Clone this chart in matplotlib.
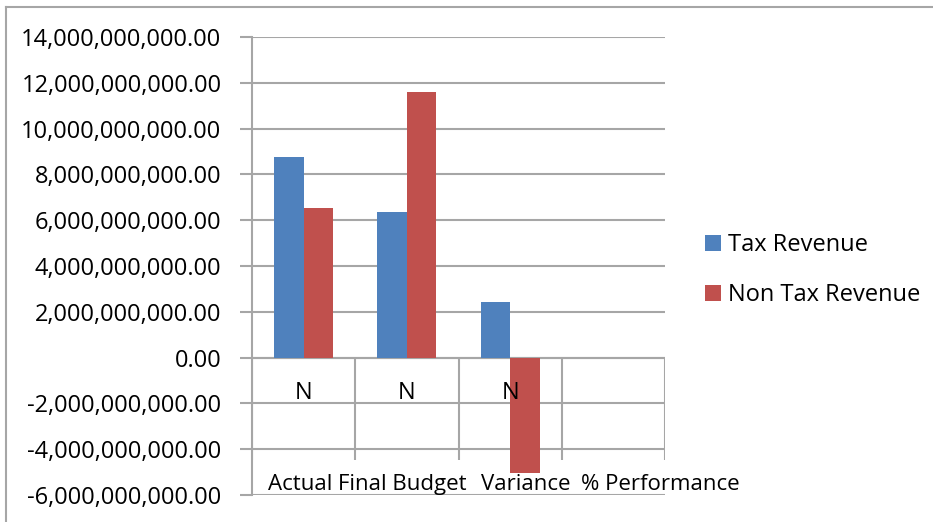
import numpy as np
import matplotlib
matplotlib.use("Agg")
import matplotlib.pyplot as plt
from matplotlib.lines import Line2D
from matplotlib.ticker import FuncFormatter

categories = ["Actual", "Final Budget", "Variance", "% Performance"]
group_labels = ["N", "N", "N", ""]
tax_revenue = [8.77e9, 6.35e9, 2.42e9, 138.1]
non_tax_revenue = [6.54e9, 11.60e9, -5.06e9, 56.4]
series_names = ["Tax Revenue", "Non Tax Revenue"]

blue = "#4F81BD"
red = "#C0504D"
grid_col = "#A6A6A6"
fs = 17

plt.rcParams['font.family'] = ['Open Sans', 'DejaVu Sans']

fig = plt.figure(figsize=(9.33, 5.22), dpi=100)
ax = fig.add_axes([0.2701, 0.0517, 0.4427, 0.8774])

x = np.arange(len(categories))
w = 0.285
ax.bar(x - w / 2, tax_revenue, w, color=blue, label=series_names[0], zorder=3)
ax.bar(x + w / 2, non_tax_revenue, w, color=red, label=series_names[1], zorder=3)

ax.set_xlim(-0.5, len(categories) - 0.5)
ax.set_ylim(-6e9, 14e9)
ax.set_yticks(np.arange(-6e9, 14e9 + 1, 2e9))
ax.yaxis.set_major_formatter(FuncFormatter(lambda v, p: "{:,.2f}".format(v)))
ax.tick_params(axis='y', length=9, width=1.5, color=grid_col, pad=13, labelsize=fs)
ax.set_xticks([])
ax.grid(axis='y', color=grid_col, linewidth=1.5, zorder=1)
for s in ["top", "right", "bottom"]:
    ax.spines[s].set_visible(False)
ax.spines["left"].set_color(grid_col)
ax.spines["left"].set_linewidth(1.5)

# category axis dividers below zero line
bounds = np.arange(len(categories) + 1) - 0.5
ax.vlines(bounds, -4.45e9, 0, color=grid_col, linewidth=1.5, zorder=2)
ax.axhline(0, color=grid_col, linewidth=1.5, zorder=2)

for i, g in enumerate(group_labels):
    ax.text(i, -1.55e9, g, ha='center', va='center', fontsize=fs, zorder=4)
offsets = [-0.03, -0.04, 0.15, 0.45]
for i, c in enumerate(categories):
    ax.text(i + offsets[i], -5.55e9, c, ha='center', va='center', fontsize=16, zorder=4)

leg = ax.legend(loc='center left', bbox_to_anchor=(1.075, 0.491), frameon=False,
                fontsize=fs, handlelength=0.65, handleheight=0.65,
                handletextpad=0.3, labelspacing=1.1, borderaxespad=0)

# chart outer border
fig.add_artist(Line2D([6 / 933, 1], [1 - 7 / 522, 1 - 7 / 522], color=grid_col, lw=1.5))
fig.add_artist(Line2D([6 / 933, 6 / 933], [0, 1 - 7 / 522], color=grid_col, lw=1.5))

fig.savefig("out.png", dpi=100)
